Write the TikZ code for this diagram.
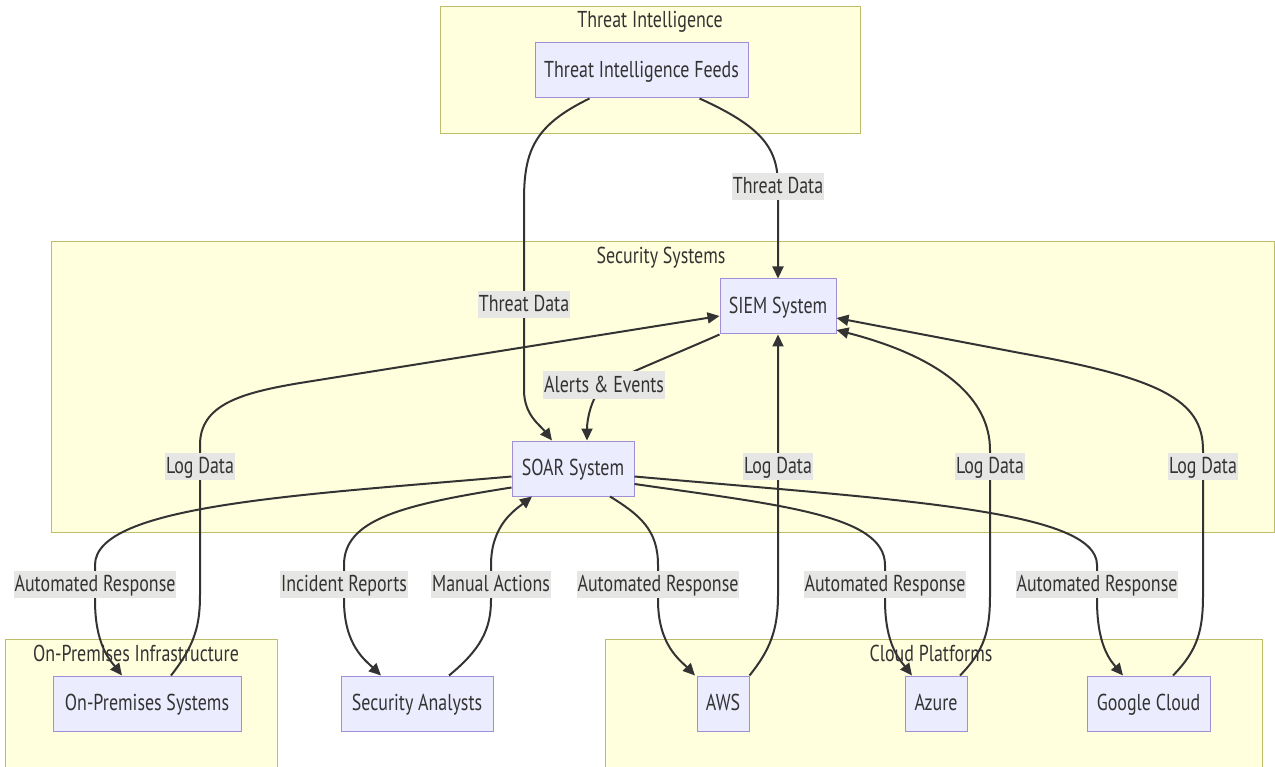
\documentclass[tikz,border=0pt]{standalone}
\usepackage{fontspec}
\setmainfont{PT Sans}[FakeStretch=0.78]
\usetikzlibrary{arrows.meta,calc}
\definecolor{clusterfill}{HTML}{FFFFDE}
\definecolor{clusterline}{HTML}{BDBD6A}
\definecolor{nodefill}{HTML}{ECECFF}
\definecolor{nodeline}{HTML}{9F8FD8}
\definecolor{edgeline}{HTML}{333333}
\definecolor{labelfill}{HTML}{E6E6E4}
\definecolor{textcol}{HTML}{333333}
\begin{document}
\begin{tikzpicture}[x=1pt,y=-1pt,
  txt/.style={font=\fontsize{23}{26}\selectfont, text=textcol, text height=18pt, text depth=4pt},
  cluster/.style={draw=clusterline, fill=clusterfill, line width=1pt},
  ctitle/.style={txt, inner sep=0pt},
  box/.style={txt, draw=nodeline, fill=nodefill, line width=1pt, minimum height=55pt,
              inner sep=0pt},
  edge/.style={draw=edgeline, line width=2pt, -{Triangle[length=12pt,width=11pt]}},
  lbl/.style={txt, fill=labelfill, inner xsep=1pt, inner ysep=0pt, minimum height=27pt},
]
\useasboundingbox (0,0) rectangle (1275,767);
\fill[white] (0,0) rectangle (1275,767);

% subgraph frames
\draw[cluster] (440,7) rectangle (860,134);
\draw[cluster] (51,242) rectangle (1274.5,532);
\draw[cluster] (5,639) rectangle (277,770);
\draw[cluster] (605,639) rectangle (1262,770);

\node[ctitle] (tTI)  at (650,21)  {Threat Intelligence};
\node[ctitle] (tSec) at (661,257) {Security Systems};
\node[ctitle] (tOP)  at (136,654) {On-Premises Infrastructure};
\node[ctitle] (tCP)  at (931,654) {Cloud Platforms};

% nodes
\node[box, minimum width=213pt] (tif)  at (641.5,70.5) {Threat Intelligence Feeds};
\node[box, minimum width=116pt] (siem) at (778,306.5)  {SIEM System};
\node[box, minimum width=122pt] (soar) at (573,468.5)  {SOAR System};
\node[box, minimum width=188pt] (op)   at (147,703.5)  {On-Premises Systems};
\node[box, minimum width=152pt] (sa)   at (417,703.5)  {Security Analysts};
\node[box, minimum width=52pt]  (aws)  at (723,703.5)  {AWS};
\node[box, minimum width=62pt]  (az)   at (936,703.5)  {Azure};
\node[box, minimum width=123pt] (gc)   at (1148.5,703.5) {Google Cloud};

% threat feeds
\draw[edge] ([xshift=58pt]tif.south) .. controls (765,128) and (778,150) .. (778,187)
  node[lbl]{Threat Data} -- (siem.north);
\draw[edge] ([xshift=-52pt]tif.south) .. controls (535,125) and (524,150) .. (524,200)
  -- (524,305) node[lbl]{Threat Data} -- (524,390)
  .. controls (524,415) and (540,425) .. ([xshift=-21pt]soar.north);
\draw[edge] (siem.south west) .. controls (680,352) and (640,368) .. (604,385)
  node[lbl]{Alerts \& Events} .. controls (591,397) and (587,420) .. ([xshift=14pt]soar.north);

% log data into SIEM
\draw[edge] ([xshift=24pt]op.north) .. controls (195,645) and (200,625) .. (200,595)
  -- (200,466) node[lbl]{Log Data} -- (200,445)
  .. controls (200,405) and (240,393) .. (300,383) -- ([yshift=-9.5pt]siem.west);
\draw[edge] (aws.north east) .. controls (770,650) and (778,630) .. (778,595)
  -- (778,466) node[lbl]{Log Data} -- (siem.south);
\draw[edge] ([xshift=24pt]az.north) .. controls (985,650) and (990,630) .. (990,595)
  -- (990,466) node[lbl]{Log Data} -- (990,450)
  .. controls (990,400) and (945,358) .. ([yshift=-23.5pt]siem.east);
\draw[edge] ([xshift=24.5pt]gc.north) .. controls (1198,650) and (1203,630) .. (1203,595)
  -- (1203,466) node[lbl]{Log Data} -- (1203,450)
  .. controls (1203,400) and (1160,378) .. (1020,353) -- ([yshift=-11.5pt]siem.east);

% SOAR responses
\draw[edge] ([yshift=-8pt]soar.west) .. controls (300,495) and (95,505) .. (95,565)
  -- (95,584) node[lbl]{Automated Response} -- (95,600)
  .. controls (95,645) and (110,660) .. ([xshift=-25pt]op.north);
\draw[edge] ([yshift=-19pt]soar.west) .. controls (400,505) and (344,520) .. (344,565)
  -- (344,584) node[lbl]{Incident Reports} -- (344,600)
  .. controls (344,645) and (365,660) .. ([xshift=-36pt]sa.north);
\draw[edge] ([xshift=32pt]sa.north) .. controls (480,650) and (491,630) .. (491,600)
  -- (491,584) node[lbl]{Manual Actions} -- (491,565)
  .. controls (491,525) and (515,510) .. ([xshift=-41pt]soar.south);
\draw[edge] ([xshift=37pt]soar.south) .. controls (640,515) and (658,530) .. (658,565)
  -- (658,584) node[lbl]{Automated Response} -- (658,600)
  .. controls (658,645) and (680,660) .. ([xshift=-28pt]aws.north);
\draw[edge] ([yshift=-15.5pt]soar.east) .. controls (780,505) and (885,515) .. (885,565)
  -- (885,584) node[lbl]{Automated Response} -- (885,600)
  .. controls (885,645) and (900,660) .. ([xshift=-24pt]az.north);
\draw[edge] ([yshift=-8pt]soar.east) .. controls (900,500) and (1097,510) .. (1097,565)
  -- (1097,584) node[lbl]{Automated Response} -- (1097,600)
  .. controls (1097,645) and (1110,660) .. ([xshift=-25.5pt]gc.north);
\end{tikzpicture}
\end{document}
